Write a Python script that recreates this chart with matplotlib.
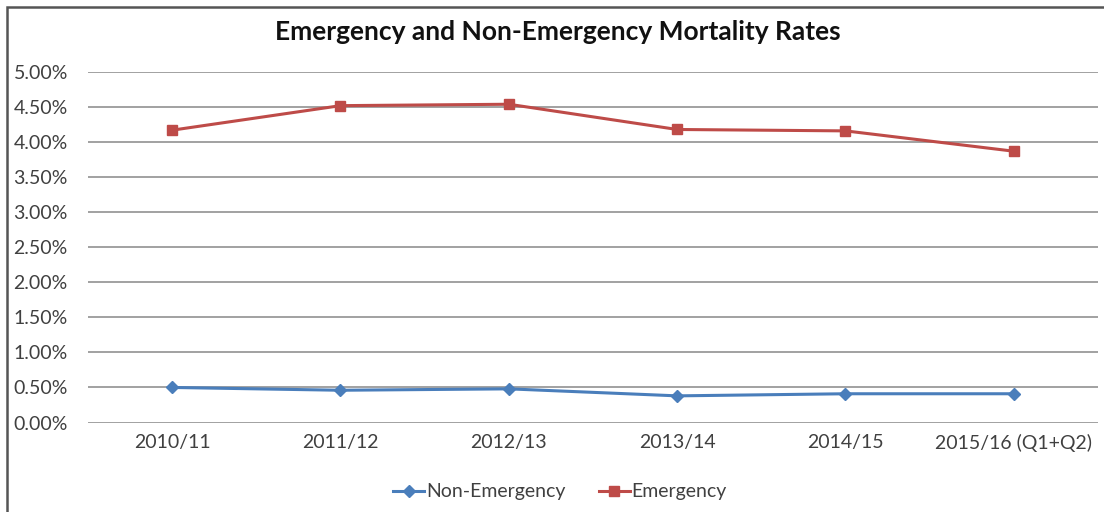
import matplotlib
matplotlib.use("Agg")
import matplotlib.pyplot as plt
from matplotlib.patches import Rectangle
from matplotlib.ticker import FuncFormatter

# data (percent)
years = ["2010/11", "2011/12", "2012/13", "2013/14", "2014/15", "2015/16 (Q1+Q2)"]
non_emergency = [0.50, 0.46, 0.48, 0.38, 0.41, 0.41]
emergency = [4.17, 4.52, 4.54, 4.18, 4.16, 3.87]
y_ticks = [0.0, 0.5, 1.0, 1.5, 2.0, 2.5, 3.0, 3.5, 4.0, 4.5, 5.0]

plt.rcParams['font.family'] = ['Lato', 'DejaVu Sans']

fig = plt.figure(figsize=(11.04, 5.12), dpi=100)
ax = fig.add_axes([88 / 1104, 1 - 422.5 / 512, 1010 / 1104, 350.5 / 512])

x = list(range(len(years)))
ax.plot(x, non_emergency, color='#4A7EBB', lw=2.2, marker='D', ms=6.5,
        label='Non-Emergency')
ax.plot(x, emergency, color='#BE4B48', lw=2.2, marker='s', ms=7.5,
        label='Emergency')

ax.set_xlim(-0.5, len(years) - 0.5)
ax.set_ylim(0, 5)
ax.set_yticks(y_ticks)
ax.yaxis.set_major_formatter(FuncFormatter(lambda v, p: f"{v:.2f}%"))
ax.set_xticks(x)
ax.set_xticklabels(years)
ax.grid(axis='y', color='#9a9a9a', lw=1.3)
ax.set_axisbelow(True)
for s in ax.spines.values():
    s.set_visible(False)
ax.tick_params(length=0, labelsize=14, labelcolor='#404040')
ax.tick_params(axis='y', pad=14.5)
ax.tick_params(axis='x', pad=8)

fig.text(558 / 1104, 1 - 32 / 512, "Emergency and Non-Emergency Mortality Rates",
         ha='center', va='center', fontsize=19, fontweight='bold', color='#111111')

leg = fig.legend(loc='center', bbox_to_anchor=(560 / 1104, 1 - 492 / 512), ncol=2,
                 frameon=False, fontsize=14, handlelength=1.6, columnspacing=1.7,
                 handletextpad=0.1)
for t in leg.get_texts():
    t.set_color('#404040')

# outer chart border
fig.patches.append(Rectangle((7 / 1104, -0.1), 1.2, 1 - 7 / 512 + 0.1,
                             transform=fig.transFigure, fill=False,
                             edgecolor='#555555', lw=1.8))

fig.savefig("out.png", dpi=100)
